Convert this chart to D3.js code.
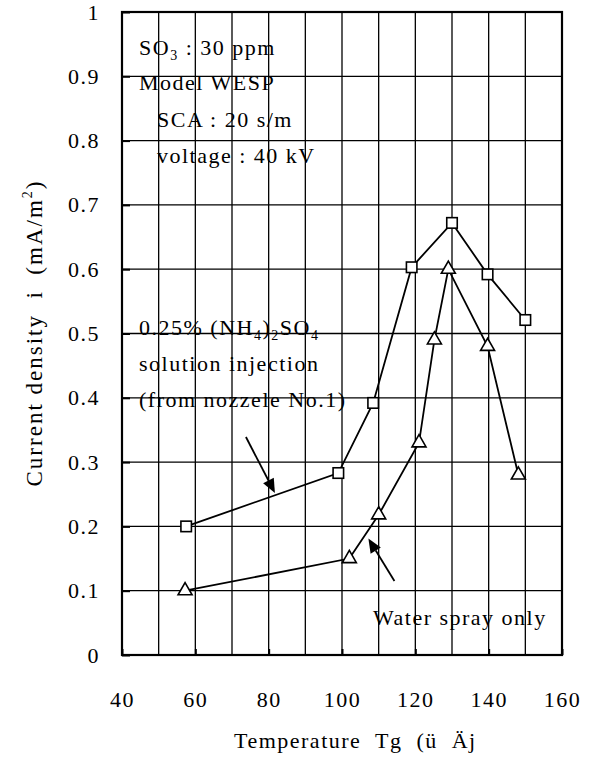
<!DOCTYPE html>
<html>
<head>
<meta charset="utf-8">
<script src="https://cdn.jsdelivr.net/npm/d3@7"></script>
<style>
  html, body { margin: 0; padding: 0; background: #fff; }
  svg text { font-family: "Liberation Serif", "Times New Roman", serif; fill: #000; white-space: pre; }
</style>
</head>
<body>
<div id="chart"></div>
<script>
// ---- data ----
const xTicks = [40, 60, 80, 100, 120, 140, 160];
const yTicks = [0, 0.1, 0.2, 0.3, 0.4, 0.5, 0.6, 0.7, 0.8, 0.9, 1];
const xGrid = [40, 50, 60, 70, 80, 90, 100, 110, 120, 130, 140, 150, 160];

const ammoniumT = [57.5, 99, 108.5, 119, 130, 139.7, 150];
const ammoniumI = [0.20, 0.283, 0.392, 0.603, 0.672, 0.592, 0.521];

const waterT = [57.2, 102, 110, 121, 125.2, 129, 139.7, 148.1];
const waterI = [0.10, 0.15, 0.218, 0.33, 0.49, 0.60, 0.48, 0.28];

// ---- layout ----
const W = 593, H = 760;
const margin = { left: 122, right: 31, top: 12, bottom: 105 };
const iw = W - margin.left - margin.right;
const ih = H - margin.top - margin.bottom;

const svg = d3.select("#chart").append("svg")
  .attr("width", W).attr("height", H);

const x = d3.scaleLinear().domain([40, 160]).range([margin.left, margin.left + iw]);
const y = d3.scaleLinear().domain([0, 1]).range([margin.top + ih, margin.top]);

const FS = 22, LS = 1.5;

// grid
const g = svg.append("g");
g.selectAll("line.vg").data(xGrid).join("line")
  .attr("x1", d => x(d)).attr("x2", d => x(d))
  .attr("y1", y(0)).attr("y2", y(1))
  .attr("stroke", "#000").attr("stroke-width", 1.3);
g.selectAll("line.hg").data(yTicks).join("line")
  .attr("y1", d => y(d)).attr("y2", d => y(d))
  .attr("x1", x(40)).attr("x2", x(160))
  .attr("stroke", "#000").attr("stroke-width", 1.3);

// axes (ticks inward) using d3 axes
const xAxis = d3.axisBottom(x).tickValues(xTicks).tickSize(-6).tickPadding(36)
  .tickFormat(d3.format("d"));
const gx = svg.append("g").attr("transform", `translate(0,${y(0)})`).call(xAxis);
gx.select(".domain").remove();
gx.selectAll(".tick line").attr("stroke", "#000").attr("stroke-width", 2);
gx.selectAll(".tick text").attr("font-size", FS).attr("letter-spacing", LS)
  .attr("fill", "#000");

const yAxis = d3.axisLeft(y).tickValues(yTicks).tickSize(-8).tickPadding(22)
  .tickFormat(d => d === 0 ? "0" : d === 1 ? "1" : d3.format(".1f")(d));
const gy = svg.append("g").attr("transform", `translate(${x(40)},0)`).call(yAxis);
gy.select(".domain").remove();
gy.selectAll(".tick line").attr("stroke", "#000").attr("stroke-width", 2);
gy.selectAll(".tick text").attr("font-size", FS).attr("letter-spacing", LS)
  .attr("fill", "#000");

// frame
svg.append("rect")
  .attr("x", x(40)).attr("y", y(1))
  .attr("width", x(160) - x(40)).attr("height", y(0) - y(1))
  .attr("fill", "none").attr("stroke", "#000").attr("stroke-width", 2.2);

// series
const line = d3.line().x(d => x(d[0])).y(d => y(d[1]));
const ammonium = ammoniumT.map((t, i) => [t, ammoniumI[i]]);
const water = waterT.map((t, i) => [t, waterI[i]]);

svg.append("path").datum(ammonium).attr("d", line)
  .attr("fill", "none").attr("stroke", "#000").attr("stroke-width", 1.8);
svg.append("path").datum(water).attr("d", line)
  .attr("fill", "none").attr("stroke", "#000").attr("stroke-width", 1.8);

const sq = 10.5;
svg.selectAll("rect.sq").data(ammonium).join("rect")
  .attr("x", d => x(d[0]) - sq / 2).attr("y", d => y(d[1]) - sq / 2)
  .attr("width", sq).attr("height", sq)
  .attr("fill", "#fff").attr("stroke", "#000").attr("stroke-width", 1.6);

const tri = d3.symbol().type(d3.symbolTriangle).size(85);
svg.selectAll("path.tri").data(water).join("path")
  .attr("d", tri)
  .attr("transform", d => `translate(${x(d[0])},${y(d[1])})`)
  .attr("fill", "#fff").attr("stroke", "#000").attr("stroke-width", 1.6);

// annotations
function addText(tx, ty, parts) {
  const t = svg.append("text").attr("x", tx).attr("y", ty)
    .attr("font-size", FS).attr("letter-spacing", LS);
  parts.forEach(p => {
    const s = t.append("tspan").text(p.t);
    if (p.sub) s.attr("font-size", 14).attr("dy", 5);
    if (p.back) s.attr("dy", -5);
  });
  return t;
}

addText(139, 55, [{ t: "SO" }, { t: "3", sub: true }, { t: " : 30 ppm", back: true }]);
addText(139, 90, [{ t: "Model WESP" }]);
addText(157, 127, [{ t: "SCA : 20 s/m" }]);
addText(157, 163, [{ t: "voltage : 40 kV" }]);

addText(139, 335, [{ t: "0.25% (NH" }, { t: "4", sub: true }, { t: ")", back: true },
  { t: "2", sub: true }, { t: "SO", back: true }, { t: "4", sub: true }]);
addText(139, 371, [{ t: "solution injection" }]);
addText(139, 407, [{ t: "(from nozzele No.1)" }]);

addText(373, 625, [{ t: "Water spray only" }]);

// arrows
const arrows = [
  { from: [73.8, 0.339], to: [81.7, 0.252] },
  { from: [114.3, 0.115], to: [107.2, 0.181] }
];
arrows.forEach(a => {
  const x1 = x(a.from[0]), y1 = y(a.from[1]), x2 = x(a.to[0]), y2 = y(a.to[1]);
  const ang = Math.atan2(y2 - y1, x2 - x1);
  const L = 14, Wd = 6;
  const bx = x2 - L * Math.cos(ang), by = y2 - L * Math.sin(ang);
  svg.append("line").attr("x1", x1).attr("y1", y1).attr("x2", bx).attr("y2", by)
    .attr("stroke", "#000").attr("stroke-width", 1.8);
  const px = -Math.sin(ang) * Wd, py = Math.cos(ang) * Wd;
  svg.append("path")
    .attr("d", `M${x2},${y2}L${bx + px},${by + py}L${bx - px},${by - py}Z`)
    .attr("fill", "#000");
});

// axis titles
svg.append("text").attr("x", 234).attr("y", 748)
  .attr("font-size", FS).attr("letter-spacing", LS)
  .text("Temperature  Tg  (ü  Äj");

const yt = svg.append("text")
  .attr("transform", "translate(42,333) rotate(-90)")
  .attr("text-anchor", "middle")
  .attr("font-size", 23).attr("letter-spacing", 2);
yt.append("tspan").text("Current density  i  (mA/m");
yt.append("tspan").attr("font-size", 14).attr("dy", -10).text("2");
yt.append("tspan").attr("dy", 10).text(")");
</script>
</body>
</html>
